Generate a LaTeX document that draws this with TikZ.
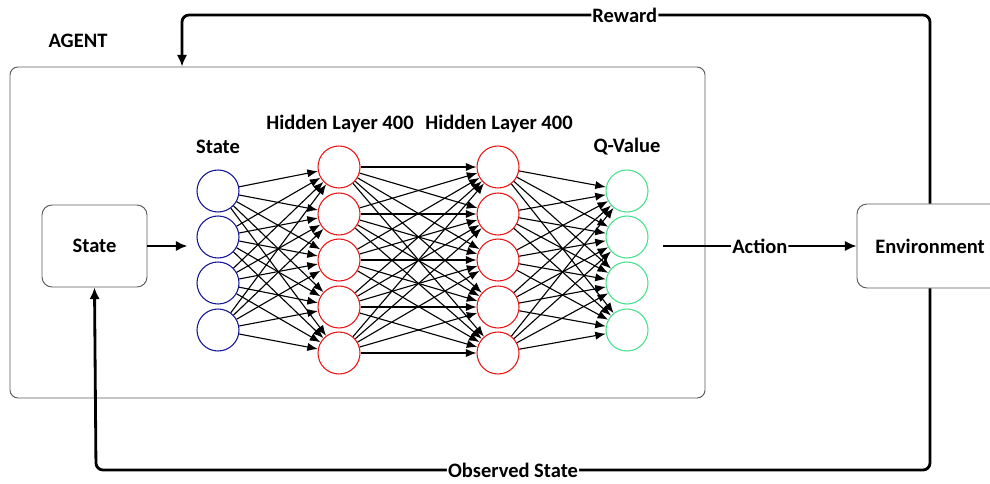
\documentclass[tikz,border=0pt]{standalone}
\usepackage{fontspec}
\setmainfont{Carlito}
\usepackage{tikz}
\usetikzlibrary{arrows.meta, positioning}
\definecolor{inblue}{RGB}{20,20,150}
\definecolor{hidred}{RGB}{235,20,20}
\definecolor{outgreen}{RGB}{70,225,140}
\definecolor{boxgray}{RGB}{90,90,90}

\begin{document}
\begin{tikzpicture}[x=0.03cm, y=-0.03cm,
    font=\bfseries\fontsize{17.5}{20}\selectfont,
    neuron/.style={circle, draw, line width=0.9pt, minimum size=1.26cm, inner sep=0pt},
    edge/.style={-{Latex[length=9pt,width=7pt]}, line width=0.95pt},
    flow/.style={-{Latex[length=10pt,width=9pt]}, line width=2.4pt, rounded corners=6pt},
    panel/.style={draw=boxgray, line width=0.8pt, rounded corners=0.3cm},
    lbl/.style={fill=white, inner sep=1pt}]
  \useasboundingbox (0,0) rectangle (990,484);

  % agent frame and blocks
  \node[panel, rounded corners=0.24cm, minimum width=20.85cm, minimum height=9.93cm]
        (agent) at (357.5,232.5) {};
  \node at (78,41) {AGENT};
  \node[panel, minimum width=3.15cm, minimum height=2.46cm] (state) at (94.5,246) {State};
  \node[panel, minimum width=4.38cm, minimum height=2.52cm] (env) at (930,246) {Environment};

  % layers
  \foreach \n/\y in {1/191, 2/237, 3/283, 4/330} {
    \node[neuron, draw=inblue] (in\n) at (218,\y) {};
    \node[neuron, draw=outgreen] (out\n) at (627,\y) {};
  }
  \foreach \n/\y in {1/167, 2/214, 3/260, 4/307, 5/353} {
    \node[neuron, draw=hidred] (ha\n) at (339,\y) {};
    \node[neuron, draw=hidred] (hb\n) at (498,\y) {};
  }
  \node at (218,147) {State};
  \node at (340,124) {Hidden Layer 400};
  \node at (499,124) {Hidden Layer 400};
  \node at (627,147) {Q-Value};

  \foreach \i in {1,...,4} {
    \foreach \j in {1,...,5} {
      \draw[edge] (in\i) -- (ha\j);
      \draw[edge] (hb\j) -- (out\i);
    }
  }
  \foreach \i in {1,...,5} {
    \foreach \j in {1,...,5} {
      \draw[edge] (ha\i) -- (hb\j);
    }
  }

  % signal flow
  \coordinate (qtail) at (663,246);
  \coordinate (rw) at (182,15);
  \coordinate (os) at (96,470);
  \draw[flow, shorten >=0.27cm] (state.east) -- (in2.west |- state.east);
  \draw[flow] (qtail) -- node[lbl] {Action} (env.west);
  \draw[flow] (env.north) |- node[lbl, pos=0.704] {Reward} (rw) -- (rw |- agent.north);
  \draw[flow] (env.south) |- node[lbl, pos=0.75] {Observed State} (os) -- (state.south);
\end{tikzpicture}
\end{document}
